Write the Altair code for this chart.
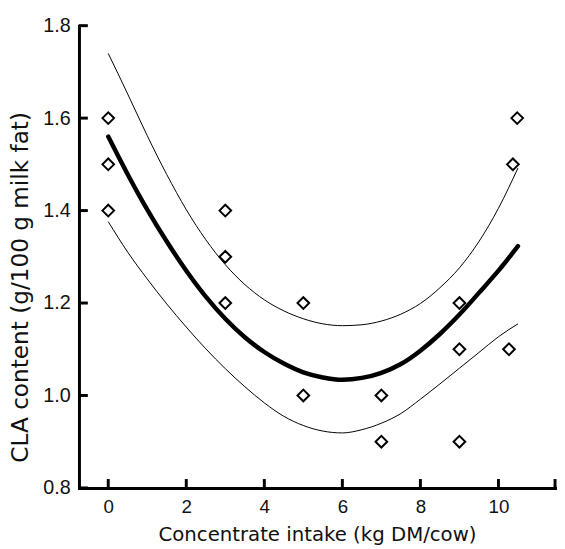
import altair as alt
import pandas as pd

# Observed data (concentrate intake vs CLA content)
pt_x = [0, 0, 0, 3, 3, 3, 5, 5, 7, 7, 9, 9, 9, 10.27, 10.37, 10.48]
pt_y = [1.6, 1.5, 1.4, 1.4, 1.3, 1.2, 1.2, 1.0, 1.0, 0.9, 1.2, 1.1, 0.9, 1.1, 1.5, 1.6]

# Curves
cx = [0, 0.5, 1, 1.5, 2, 2.5, 3, 3.5, 4, 4.5, 5, 5.5, 6, 6.5, 7, 7.5, 8, 8.5, 9, 9.5, 10, 10.5]
fit_y = [1.56, 1.478, 1.402, 1.333, 1.27, 1.214, 1.166, 1.126, 1.094, 1.069, 1.05, 1.039,
         1.034, 1.038, 1.049, 1.068, 1.097, 1.133, 1.175, 1.222, 1.27, 1.323]
upper_y = [1.74, 1.652, 1.562, 1.478, 1.402, 1.337, 1.283, 1.24, 1.207, 1.183, 1.166, 1.155,
           1.151, 1.153, 1.161, 1.176, 1.199, 1.233, 1.276, 1.333, 1.405, 1.492]
lower_y = [1.376, 1.31, 1.252, 1.198, 1.148, 1.101, 1.058, 1.019, 0.984, 0.955, 0.935, 0.923,
           0.919, 0.926, 0.94, 0.961, 0.992, 1.025, 1.059, 1.093, 1.127, 1.155]

x_ticks = [0, 2, 4, 6, 8, 10]
y_ticks = [0.8, 1.0, 1.2, 1.4, 1.6, 1.8]
x_domain = [-0.75, 11.45]
y_domain = [0.8, 1.8]

pts = pd.DataFrame({"x": pt_x, "y": pt_y})
curves = pd.concat([
    pd.DataFrame({"x": cx, "y": fit_y, "c": "fit"}),
    pd.DataFrame({"x": cx, "y": upper_y, "c": "upper"}),
    pd.DataFrame({"x": cx, "y": lower_y, "c": "lower"}),
])
xt = pd.DataFrame({"x": x_ticks + [x_domain[1]]})
yt = pd.DataFrame({"y": y_ticks})

xs = alt.Scale(domain=x_domain, nice=False, zero=False)
ys = alt.Scale(domain=y_domain, nice=False, zero=False)

xaxis = alt.Axis(values=x_ticks, ticks=False, grid=False, domainWidth=3, domainColor="black",
                 domainCap="square", labelFont="Liberation Sans", labelFontSize=19,
                 labelColor="#111", labelPadding=10, labelFlush=False,
                 title="Concentrate intake (kg DM/cow)", titleFont="DejaVu Sans",
                 titleFontSize=20, titleFontWeight="normal", titleColor="#111",
                 titleBaseline="alphabetic", titleY=53)
yaxis = alt.Axis(values=y_ticks, format=".1f", ticks=False, grid=False, domainWidth=3,
                 domainColor="black", domainCap="square", labelFont="Liberation Sans",
                 labelFontSize=20, labelColor="#111", labelPadding=9, labelFlush=False,
                 title="CLA content (g/100 g milk fat)", titleFont="DejaVu Sans",
                 titleFontSize=23.5, titleFontWeight="normal", titleColor="#111",
                 titleBaseline="alphabetic", titleX=-52, titleY=265, titleAngle=-90)

X = lambda: alt.X("x:Q", scale=xs, axis=xaxis)
Y = lambda: alt.Y("y:Q", scale=ys, axis=yaxis)

thin = alt.Chart(curves).transform_filter(alt.datum.c != "fit").mark_line(
    color="black", strokeWidth=1, interpolate="monotone").encode(x=X(), y=Y(), detail="c:N")
thick = alt.Chart(curves).transform_filter(alt.datum.c == "fit").mark_line(
    color="black", strokeWidth=4.5, strokeCap="round", interpolate="monotone").encode(x=X(), y=Y())
points = alt.Chart(pts).mark_point(shape="diamond", size=140, filled=False, color="black",
                                   strokeWidth=2, opacity=1).encode(x=X(), y=Y())
xtick = alt.Chart(xt).mark_rule(color="black", strokeWidth=3).encode(
    x=X(), y=alt.value(469), y2=alt.value(460))
ytick = alt.Chart(yt).mark_rule(color="black", strokeWidth=3).encode(
    y=Y(), x=alt.value(0), x2=alt.value(9))

chart = alt.layer(thin, thick, points, xtick, ytick).properties(
    width=483, height=469,
    autosize=alt.AutoSizeParams(type="none"),
    padding={"left": 72, "top": 14, "right": 2, "bottom": 56},
    background="white",
).configure_view(stroke=None)

chart.save("out.html", embed_options={"renderer": "svg", "actions": False})
